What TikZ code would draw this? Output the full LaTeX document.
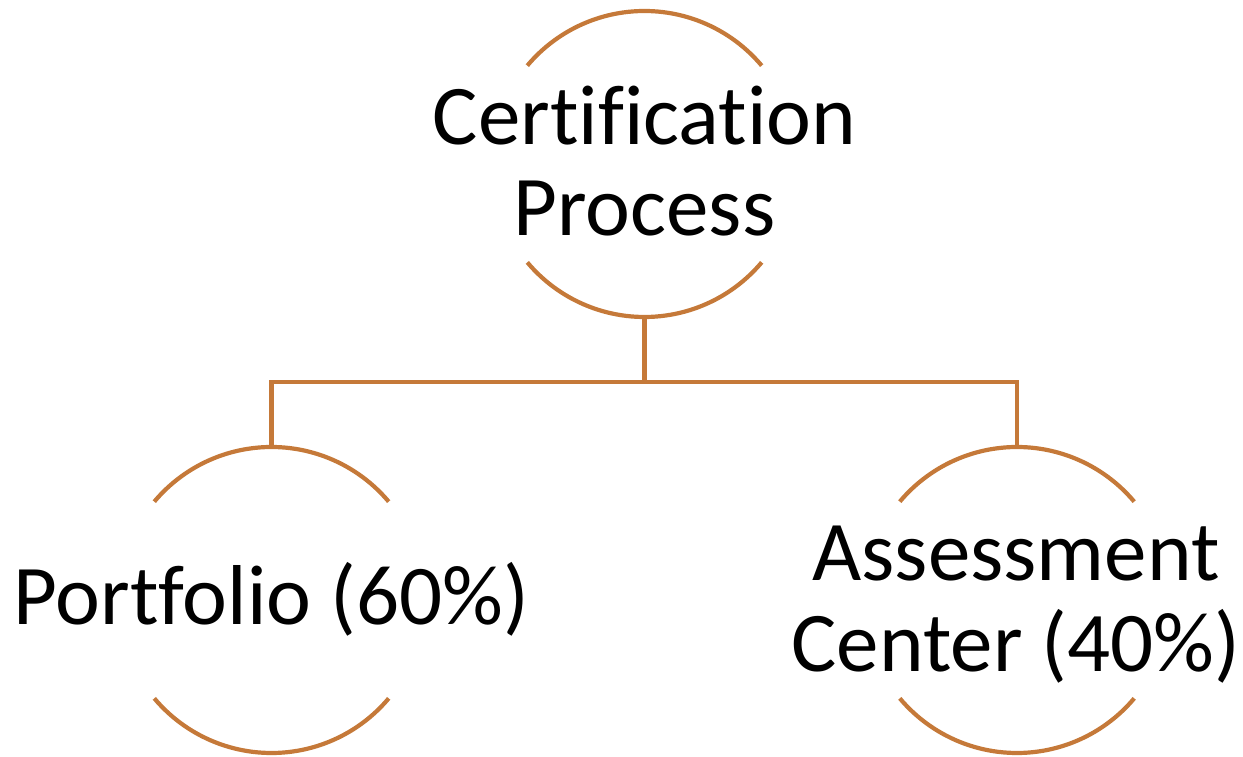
\documentclass[tikz,border=0pt]{standalone}
\usepackage{fontspec}
\setmainfont{Carlito}[Ligatures=NoCommon]
\definecolor{ringcol}{RGB}{197,121,57}
\begin{document}
\begin{tikzpicture}[x=1pt,y=1pt,
  ring/.style={circle,minimum size=306pt,inner sep=0pt,outer sep=0pt},
  arcline/.style={draw=ringcol,line width=4.2pt},
  label/.style={inner sep=0pt,align=center,font=\fontsize{85}{91}\selectfont}]
  \useasboundingbox (0,0) rectangle (1243,757);
  % nodes of the tree
  \node[ring] (top)   at (644.5,593) {};
  \node[ring] (left)  at (271.5,157) {};
  \node[ring] (right) at (1017,157) {};
  % partial rings: an arc above and an arc below each label
  \foreach \n in {top,left,right}{
    \draw[arcline] (\n.40) arc[start angle=40,end angle=140,radius=153pt];
    \draw[arcline] (\n.220) arc[start angle=220,end angle=320,radius=153pt];
  }
  % labels
  \node[label,anchor=center] (tt) at (644.5,596) {Certification\\Process};
  \node[label,anchor=base] (lt) at (271.5,132) {Portfolio (60\%)};
  \node[label,anchor=center] (rt) at (1016,152) {Assessment\\Center (40\%)};
  % connectors
  \coordinate (bus) at (644.5,375.3);
  \draw[arcline] (top.south) -- (bus);
  \draw[arcline] (left.north) |- (bus) -| (right.north);
\end{tikzpicture}
\end{document}
